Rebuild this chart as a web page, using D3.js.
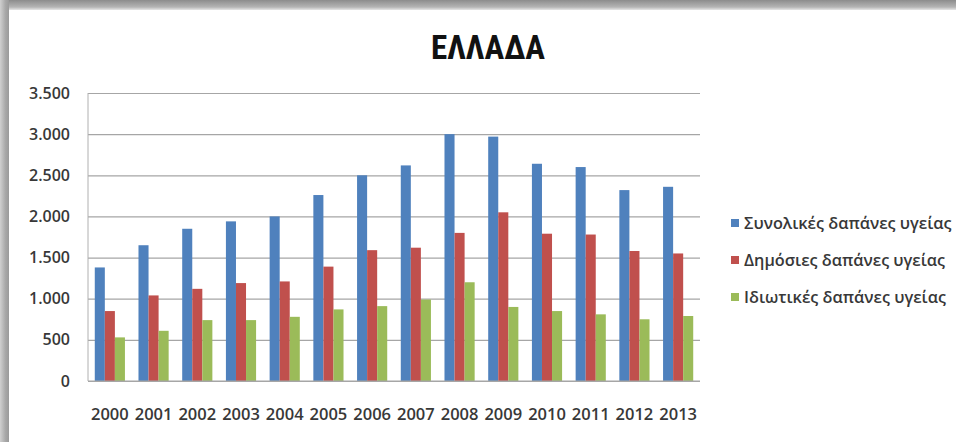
<!DOCTYPE html>
<html>
<head>
<meta charset="utf-8">
<script src="https://cdn.jsdelivr.net/npm/d3@7"></script>
<style>
  html, body { margin: 0; padding: 0; background: #fff; }
  svg { display: block; }
</style>
</head>
<body>
<svg id="chart" width="956" height="442"></svg>
<script>
// Health expenditure in Greece, 2000–2013
const years = ["2000","2001","2002","2003","2004","2005","2006","2007","2008","2009","2010","2011","2012","2013"];
const seriesNames = ["Συνολικές δαπάνες υγείας", "Δημόσιες δαπάνες υγείας", "Ιδιωτικές δαπάνες υγείας"];
const totalSpending   = [1380, 1650, 1850, 1940, 2000, 2260, 2500, 2620, 3000, 2970, 2640, 2600, 2320, 2360];
const publicSpending  = [850, 1040, 1120, 1190, 1210, 1390, 1590, 1620, 1800, 2050, 1790, 1780, 1580, 1550];
const privateSpending = [530, 610, 740, 740, 780, 870, 910, 990, 1200, 900, 850, 810, 750, 790];
const yTicks = [0, 500, 1000, 1500, 2000, 2500, 3000, 3500];
const colors = ["#4F81BD", "#C0504D", "#9BBB59"];

const seriesValues = [totalSpending, publicSpending, privateSpending];
const rows = years.map((y, i) => ({ year: y, values: seriesValues.map(s => s[i]) }));

const svg = d3.select("#chart");
const W = 956, H = 442;
const labelFont = "'Open Sans', sans-serif";
const labelColor = "#383838";

// Frame with soft shadow along top and left edges
const defs = svg.append("defs");
const gTop = defs.append("linearGradient").attr("id", "shTop").attr("x1", 0).attr("y1", 0).attr("x2", 0).attr("y2", 1);
gTop.append("stop").attr("offset", "0%").attr("stop-color", "#8c8c8c");
gTop.append("stop").attr("offset", "70%").attr("stop-color", "#b4b4b4");
gTop.append("stop").attr("offset", "100%").attr("stop-color", "#e6e6e6");
const gLeft = defs.append("linearGradient").attr("id", "shLeft").attr("x1", 0).attr("y1", 0).attr("x2", 1).attr("y2", 0);
gLeft.append("stop").attr("offset", "0%").attr("stop-color", "#d0d0d0");
gLeft.append("stop").attr("offset", "60%").attr("stop-color", "#a8a8a8");
gLeft.append("stop").attr("offset", "100%").attr("stop-color", "#9a9a9a");

svg.append("rect").attr("x", 0).attr("y", 0).attr("width", W).attr("height", H).attr("fill", "#fff");
svg.append("rect").attr("x", 0).attr("y", 0).attr("width", W).attr("height", 10).attr("fill", "url(#shTop)");
svg.append("rect").attr("x", 0).attr("y", 0).attr("width", 9).attr("height", H).attr("fill", "url(#shLeft)");

const margin = { left: 88, right: 256, top: 93, bottom: 61 };
const plotW = W - margin.left - margin.right;
const plotH = H - margin.top - margin.bottom;

const x = d3.scaleBand().domain(years).range([margin.left, margin.left + plotW]).paddingInner(0.31).paddingOuter(0.155);
const xs = d3.scaleBand().domain(d3.range(seriesNames.length)).range([0, x.bandwidth()]);
const y = d3.scaleLinear().domain([0, 3500]).range([margin.top + plotH, margin.top]);

const fmt = v => d3.format(",")(v).replace(/,/g, ".");

// Horizontal gridlines
svg.append("g")
  .attr("transform", `translate(${margin.left},0)`)
  .call(d3.axisLeft(y).tickValues(yTicks).tickSize(-plotW).tickFormat(""))
  .call(g => g.select(".domain").remove())
  .call(g => g.selectAll(".tick line").attr("stroke", "#a6a6a6").attr("stroke-width", 1.2));

// Y axis labels
svg.append("g")
  .attr("transform", `translate(${margin.left - 15},0)`)
  .call(d3.axisLeft(y).tickValues(yTicks).tickSize(0).tickFormat(fmt))
  .call(g => g.select(".domain").remove())
  .call(g => g.selectAll("text")
    .attr("font-family", labelFont)
    .attr("font-size", 16).attr("font-weight", 600).attr("fill", labelColor));

// Left axis line
svg.append("line")
  .attr("x1", margin.left).attr("x2", margin.left)
  .attr("y1", margin.top).attr("y2", margin.top + plotH)
  .attr("stroke", "#b0b0b0").attr("stroke-width", 1);

// Bars
const groups = svg.append("g").selectAll("g").data(rows).join("g")
  .attr("transform", d => `translate(${x(d.year)},0)`);
groups.selectAll("rect").data(d => d.values.map((v, k) => ({ k, v }))).join("rect")
  .attr("x", d => xs(d.k))
  .attr("width", xs.bandwidth())
  .attr("y", d => y(d.v))
  .attr("height", d => y(0) - y(d.v))
  .attr("fill", d => colors[d.k]);

// Baseline
svg.append("line")
  .attr("x1", margin.left).attr("x2", margin.left + plotW)
  .attr("y1", y(0)).attr("y2", y(0))
  .attr("stroke", "#a6a6a6").attr("stroke-width", 1.2);

// X axis labels
svg.append("g")
  .attr("transform", `translate(0,${y(0) + 24})`)
  .call(d3.axisBottom(x).tickSize(0))
  .call(g => g.select(".domain").remove())
  .call(g => g.selectAll("text")
    .attr("font-family", labelFont)
    .attr("font-size", 16.5).attr("font-weight", 600).attr("fill", labelColor));

// Title
svg.append("text")
  .attr("x", 488).attr("y", 59)
  .attr("text-anchor", "middle")
  .attr("font-family", "'Liberation Sans Narrow', 'Roboto Condensed', sans-serif")
  .attr("font-size", 33).attr("font-weight", 700).attr("fill", "#111")
  .text("ΕΛΛΑΔΑ");

// Legend
const legend = svg.append("g").selectAll("g").data(seriesNames).join("g")
  .attr("transform", (d, i) => `translate(731,${223 + i * 37})`);
legend.append("rect").attr("x", 0).attr("y", -4).attr("width", 8).attr("height", 8)
  .attr("fill", (d, i) => colors[i]);
legend.append("text").attr("x", 13).attr("y", 0).attr("dy", "0.35em")
  .attr("font-family", labelFont)
  .attr("font-size", 16.3).attr("font-weight", 600).attr("fill", labelColor)
  .text(d => d);
</script>
</body>
</html>
